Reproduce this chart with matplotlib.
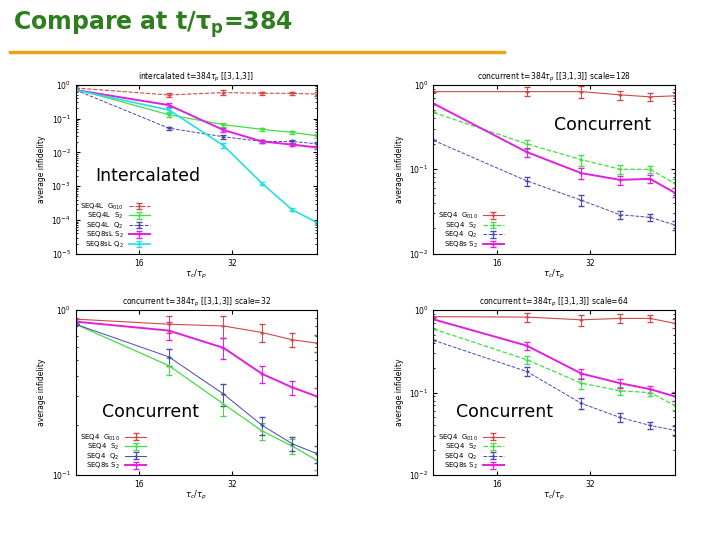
import numpy as np
import matplotlib.pyplot as plt
from matplotlib.ticker import FixedLocator, NullLocator, NullFormatter, LogLocator, LogFormatterMathtext

x = [10, 20, 30, 40, 50, 60]
err = [0.0, 0.12, 0.15, 0.12, 0.1, 0.12]

# top left: intercalated
tl_g010 = [0.8, 0.5, 0.59, 0.56, 0.56, 0.53]
tl_s2 = [0.74, 0.13, 0.066, 0.048, 0.039, 0.031]
tl_q2 = [0.7, 0.052, 0.029, 0.021, 0.021, 0.018]
tl_s2_8 = [0.7, 0.25, 0.046, 0.021, 0.017, 0.014]
tl_q2_8 = [0.7, 0.18, 0.016, 0.0012, 2e-4, 8.5e-5]

# top right: scale=128
tr_g010 = [0.83, 0.83, 0.83, 0.76, 0.72, 0.74]
tr_s2 = [0.47, 0.2, 0.13, 0.10, 0.10, 0.068]
tr_q2 = [0.22, 0.073, 0.043, 0.029, 0.027, 0.022]
tr_s2_8 = [0.6, 0.16, 0.09, 0.075, 0.077, 0.053]

# bottom left: scale=32
bl_g010 = [0.88, 0.82, 0.8, 0.73, 0.66, 0.63]
bl_s2 = [0.82, 0.46, 0.27, 0.185, 0.15, 0.123]
bl_q2 = [0.82, 0.52, 0.31, 0.2, 0.155, 0.135]
bl_s2_8 = [0.85, 0.75, 0.59, 0.41, 0.34, 0.30]

# bottom right: scale=64
br_g010 = [0.83, 0.82, 0.76, 0.79, 0.79, 0.69]
br_s2 = [0.59, 0.25, 0.13, 0.105, 0.1, 0.07]
br_q2 = [0.43, 0.18, 0.074, 0.05, 0.04, 0.035]
br_s2_8 = [0.77, 0.37, 0.17, 0.13, 0.11, 0.09]

RED, GREEN, BLUE, MAG, CYAN = '#d04848', '#44dd44', '#4848b0', '#e020e0', '#22e0e0'

fig = plt.figure(figsize=(7.2, 5.4), dpi=100)
fig.text(0.018, 0.955, r'Compare at t/$\mathbf{\tau}_\mathbf{p}$=384', color='#2e7d1e',
         fontsize=17, fontweight='bold', va='center')
fig.add_artist(plt.Line2D([0.014, 0.70], [0.903, 0.903], color='#e8a317', lw=2.5))


def panel(rect, title, series, ylim, big, bigpos):
    ax = fig.add_axes(rect)
    for y, lab, c, ls, lw in series:
        y = np.array(y)
        ax.errorbar(x, y, yerr=y * np.array(err), color=c, ls=ls, lw=lw,
                    marker='+', ms=3, capsize=2, elinewidth=0.7, label=lab)
    ax.set_xscale('log')
    ax.set_yscale('log')
    ax.set_xlim(10, 60)
    ax.set_ylim(*ylim)
    ax.xaxis.set_major_locator(FixedLocator([16, 32]))
    ax.xaxis.set_major_formatter(plt.FixedFormatter(['16', '32']))
    ax.xaxis.set_minor_locator(NullLocator())
    ax.yaxis.set_major_locator(LogLocator(10))
    ax.yaxis.set_major_formatter(LogFormatterMathtext())
    ax.yaxis.set_minor_formatter(NullFormatter())
    ax.tick_params(labelsize=5.5, direction='in', length=3, top=True, right=True)
    ax.tick_params(which='minor', direction='in', length=1.5, right=True)
    ax.set_title(title, fontsize=5.5, pad=4)
    ax.set_xlabel(r'$\tau_c/\tau_p$', fontsize=6, labelpad=0)
    ax.set_ylabel('average infidelity', fontsize=5.5)
    ax.legend(loc='lower left', frameon=False, fontsize=5, markerfirst=False,
              handlelength=3, labelspacing=-0.1, borderaxespad=0.2)
    ax.text(bigpos[0], bigpos[1], big, transform=ax.transAxes, fontsize=12.5)
    return ax


panel([0.105, 0.53, 0.335, 0.313], r'intercalated t=384$\tau_p$ [[3,1,3]]',
      [(tl_g010, r'SEQ4L  G$_{010}$', RED, '--', 0.8),
       (tl_s2, r'SEQ4L  S$_2$', GREEN, '-', 0.9),
       (tl_q2, r'SEQ4L  Q$_2$', BLUE, '--', 0.7),
       (tl_s2_8, r'SEQ8sL S$_2$', MAG, '-', 1.4),
       (tl_q2_8, r'SEQ8sL Q$_2$', CYAN, '-', 1.2)],
      (1e-5, 1), 'Intercalated', (0.08, 0.43))

panel([0.602, 0.53, 0.335, 0.313], r'concurrent t=384$\tau_p$ [[3,1,3]] scale=128',
      [(tr_g010, r'SEQ4  G$_{010}$', RED, '-', 0.8),
       (tr_s2, r'SEQ4  S$_2$', GREEN, '--', 0.9),
       (tr_q2, r'SEQ4  Q$_2$', BLUE, '--', 0.7),
       (tr_s2_8, r'SEQ8s S$_2$', MAG, '-', 1.4)],
      (1e-2, 1), 'Concurrent', (0.5, 0.73))

panel([0.105, 0.12, 0.335, 0.306], r'concurrent t=384$\tau_p$ [[3,1,3]] scale=32',
      [(bl_g010, r'SEQ4  G$_{010}$', RED, '-', 0.8),
       (bl_s2, r'SEQ4  S$_2$', GREEN, '-', 0.9),
       (bl_q2, r'SEQ4  Q$_2$', BLUE, '-', 0.7),
       (bl_s2_8, r'SEQ8s S$_2$', MAG, '-', 1.4)],
      (0.1, 1), 'Concurrent', (0.11, 0.35))

panel([0.602, 0.12, 0.335, 0.306], r'concurrent t=384$\tau_p$ [[3,1,3]] scale=64',
      [(br_g010, r'SEQ4  G$_{010}$', RED, '-', 0.8),
       (br_s2, r'SEQ4  S$_2$', GREEN, '--', 0.9),
       (br_q2, r'SEQ4  Q$_2$', BLUE, '--', 0.7),
       (br_s2_8, r'SEQ8s S$_2$', MAG, '-', 1.4)],
      (1e-2, 1), 'Concurrent', (0.095, 0.35))

fig.savefig('out.png', dpi=100)
